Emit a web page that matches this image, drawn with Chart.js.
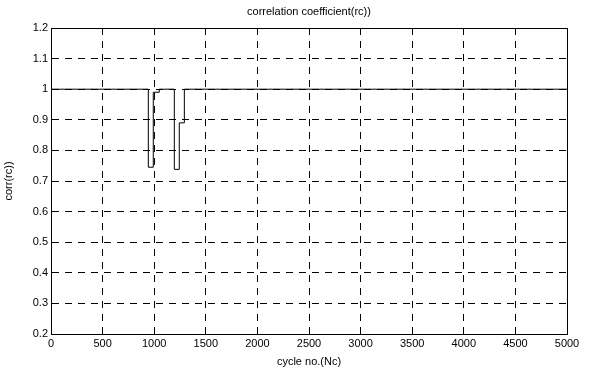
<!DOCTYPE html>
<html>
<head>
<meta charset="utf-8">
<script src="https://cdn.jsdelivr.net/npm/chart.js@4"></script>
<style>
    body { margin: 0; background: #fff; }
    #wrap { width: 591px; height: 371px; }
</style>
</head>
<body>
<div id="wrap"><canvas id="rcChart" width="591" height="371"></canvas></div>
<script>
// cycle numbers where the value changes, and the value held from there on
const cycles = [0, 943, 991, 1049, 1195, 1243, 1292, 5000];
const corrValues = [1, 0.745, 0.99, 1, 0.738, 0.89, 1, 1];

const xTicks = [0, 500, 1000, 1500, 2000, 2500, 3000, 3500, 4000, 4500, 5000];
const yTicks = [0.2, 0.3, 0.4, 0.5, 0.6, 0.7, 0.8, 0.9, 1, 1.1, 1.2];

const titleText = 'correlation coefficient(rc))';
const xLabel = 'cycle no.(Nc)';
const yLabel = 'corr(rc))';

const FONT = '"Liberation Sans", Arial, sans-serif';

// box around the axes + title, matlab style
const boxPlugin = {
    id: 'boxPlugin',
    afterDraw(chart) {
        const {ctx, chartArea: a} = chart;
        ctx.save();
        ctx.strokeStyle = '#000';
        ctx.lineWidth = 1;
        ctx.setLineDash([]);
        ctx.strokeRect(Math.round(a.left) + 0.5, Math.round(a.top) + 0.5,
            Math.round(a.right - a.left), Math.round(a.bottom - a.top));
        ctx.fillStyle = '#000';
        ctx.font = '11px ' + FONT;
        ctx.textAlign = 'center';
        ctx.textBaseline = 'middle';
        ctx.fillText(titleText, (a.left + a.right) / 2, 12);
        ctx.restore();
    }
};

const ctx = document.getElementById('rcChart').getContext('2d');

new Chart(ctx, {
    type: 'line',
    data: {
        datasets: [{
            data: cycles.map((c, i) => ({x: c, y: corrValues[i]})),
            borderColor: '#000',
            borderWidth: 1,
            pointRadius: 0,
            stepped: 'before',
            fill: false
        }]
    },
    options: {
        responsive: false,
        animation: false,
        layout: {padding: {top: 28, right: 24, left: 0, bottom: 0}},
        plugins: {
            legend: {display: false},
            tooltip: {enabled: false}
        },
        scales: {
            x: {
                type: 'linear',
                min: 0,
                max: 5000,
                afterBuildTicks: s => { s.ticks = xTicks.map(v => ({value: v})); },
                afterFit: s => { s.height = 37; },
                ticks: {
                    color: '#000',
                    font: {family: FONT, size: 11},
                    padding: 3,
                    maxRotation: 0,
                    callback: v => String(v)
                },
                grid: {
                    color: '#000',
                    lineWidth: 1,
                    drawTicks: false,
                    tickLength: 0
                },
                border: {display: true, color: '#000', dash: [7, 6]},
                title: {
                    display: true,
                    text: xLabel,
                    color: '#000',
                    font: {family: FONT, size: 11},
                    padding: {top: 0, bottom: 2}
                }
            },
            y: {
                type: 'linear',
                min: 0.2,
                max: 1.2,
                afterBuildTicks: s => { s.ticks = yTicks.map(v => ({value: v})); },
                afterFit: s => { s.width = 51; },
                ticks: {
                    color: '#000',
                    font: {family: FONT, size: 11},
                    padding: 3,
                    callback: v => String(Math.round(v * 10) / 10)
                },
                grid: {
                    color: '#000',
                    lineWidth: 1,
                    drawTicks: false,
                    tickLength: 0
                },
                border: {display: true, color: '#000', dash: [7, 6]},
                title: {
                    display: true,
                    text: yLabel,
                    color: '#000',
                    font: {family: FONT, size: 11},
                    padding: {top: 2, bottom: 0}
                }
            }
        }
    },
    plugins: [boxPlugin]
});
</script>
</body>
</html>
